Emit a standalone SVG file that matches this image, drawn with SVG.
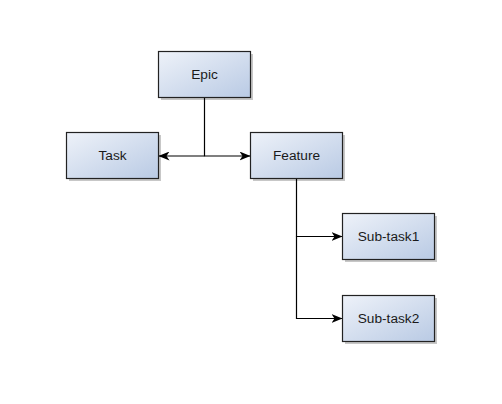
<svg xmlns="http://www.w3.org/2000/svg" width="502" height="404" viewBox="0 0 502 404">
<style>
.box{fill:url(#g);stroke:#222;stroke-width:1.2}
.sh{fill:#000;opacity:0.22}
.lbl{font-family:"Liberation Sans",Arial,sans-serif;font-size:13.7px;fill:#1a1a1a;text-anchor:middle;dominant-baseline:central}
.edge{fill:none;stroke:#000;stroke-width:1.2}
</style>
<defs>
<linearGradient id="g" x1="0" y1="0" x2="1" y2="1">
<stop offset="0" stop-color="#eef2f9"/>
<stop offset="1" stop-color="#b9cae4"/>
</linearGradient>
<marker id="ar" viewBox="0 0 11 9" refX="10.5" refY="4.5" markerWidth="11" markerHeight="9" markerUnits="userSpaceOnUse" orient="auto-start-reverse">
<path d="M0,0 L11,4.5 L0,9 L3,4.5 Z" fill="#000"/>
</marker>
</defs>
<rect width="502" height="404" fill="#fff"/>
<g id="connectors">
<path class="edge" d="M204.5,97.5 V156 H250" marker-end="url(#ar)"/>
<path class="edge" d="M204.5,156 H159" marker-end="url(#ar)"/>
<path class="edge" d="M296.5,178.5 V236.5 H342" marker-end="url(#ar)"/>
<path class="edge" d="M296.5,236.5 V318.5 H342" marker-end="url(#ar)"/>
</g>
<g id="epic">
<rect class="sh" x="161" y="54" width="92" height="46"/>
<rect class="box" x="158.5" y="51.5" width="92" height="46"/>
<text class="lbl" x="204.5" y="74.5">Epic</text>
</g>
<g id="task">
<rect class="sh" x="69" y="135" width="92" height="46"/>
<rect class="box" x="66.5" y="132.5" width="92" height="46"/>
<text class="lbl" x="112.5" y="155.5">Task</text>
</g>
<g id="feature">
<rect class="sh" x="253" y="135" width="92" height="46"/>
<rect class="box" x="250.5" y="132.5" width="92" height="46"/>
<text class="lbl" x="296.5" y="155.5">Feature</text>
</g>
<g id="subtask1">
<rect class="sh" x="345" y="216" width="92" height="46"/>
<rect class="box" x="342.5" y="213.5" width="92" height="46"/>
<text class="lbl" x="388.5" y="236.5">Sub-task1</text>
</g>
<g id="subtask2">
<rect class="sh" x="345" y="298" width="92" height="46"/>
<rect class="box" x="342.5" y="295.5" width="92" height="46"/>
<text class="lbl" x="388.5" y="318.5">Sub-task2</text>
</g>
</svg>
